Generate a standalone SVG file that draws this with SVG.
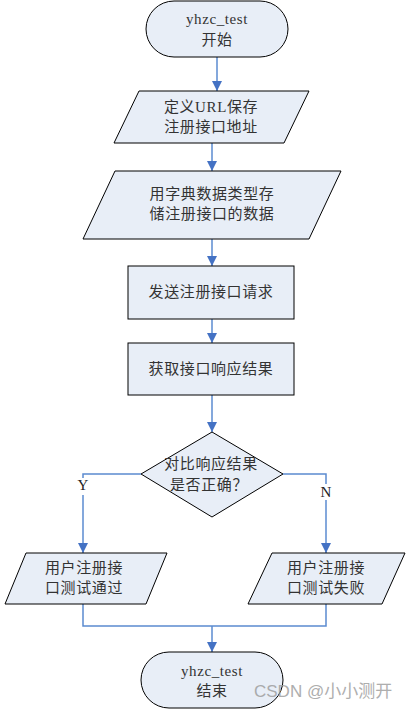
<svg xmlns="http://www.w3.org/2000/svg" width="406" height="710" viewBox="0 0 406 710">
<style>
.shape{fill:#E8EEF7;stroke:#000;stroke-width:1}
.t{font-family:"Liberation Serif","Noto Sans CJK SC",serif;font-size:15px;fill:#333;text-anchor:middle;letter-spacing:0.6px}
.lbl{font-family:"Liberation Serif",serif;font-size:15px;fill:#222;text-anchor:middle}
.c{fill:none;stroke:#5B8BD0;stroke-width:1.5}
.wm{font-family:"Liberation Sans","Noto Sans CJK SC",sans-serif;font-size:17px;fill:#9a9a9a;opacity:0.8}
</style>
<defs>
<marker id="arr" markerUnits="userSpaceOnUse" markerWidth="12" markerHeight="12" viewBox="0 0 12 12" refX="10" refY="6" orient="auto">
<path d="M0,1 L10,6 L0,11 Z" fill="#4472C4"/>
</marker>
</defs>
<g id="connectors">
<line class="c" x1="217" y1="57" x2="217" y2="91" marker-end="url(#arr)"/>
<line class="c" x1="212" y1="143" x2="212" y2="171" marker-end="url(#arr)"/>
<line class="c" x1="212" y1="239" x2="212" y2="266" marker-end="url(#arr)"/>
<line class="c" x1="212" y1="319" x2="212" y2="343" marker-end="url(#arr)"/>
<line class="c" x1="212" y1="395" x2="212" y2="432" marker-end="url(#arr)"/>
<polyline class="c" points="141,474 83,474 83,478"/>
<line class="c" x1="83" y1="495" x2="83" y2="553" marker-end="url(#arr)"/>
<text class="lbl" x="83" y="490">Y</text>
<polyline class="c" points="283,474 326,474 326,484"/>
<line class="c" x1="326" y1="500" x2="326" y2="553" marker-end="url(#arr)"/>
<text class="lbl" x="326" y="497">N</text>
<polyline class="c" points="83,604 83,626 326,626 326,604"/>
<line class="c" x1="212" y1="626" x2="212" y2="652" marker-end="url(#arr)"/>
</g>
<g id="start">
<rect class="shape" x="146" y="1" width="142" height="56" rx="28" ry="28"/>
<text class="t" x="217" y="24">yhzc_test</text>
<text class="t" x="217" y="45">开始</text>
</g>
<g id="define-url">
<polygon class="shape" points="139,91 309,91 284,143 114,143"/>
<text class="t" x="211" y="112">定义URL保存</text>
<text class="t" x="211" y="132">注册接口地址</text>
</g>
<g id="store-data">
<polygon class="shape" points="115,171 341,171 309,239 83,239"/>
<text class="t" x="212" y="199">用字典数据类型存</text>
<text class="t" x="212" y="219">储注册接口的数据</text>
</g>
<g id="send-request">
<rect class="shape" x="128" y="266" width="166" height="53"/>
<text class="t" x="211" y="297">发送注册接口请求</text>
</g>
<g id="get-response">
<rect class="shape" x="128" y="343" width="166" height="52"/>
<text class="t" x="211" y="374">获取接口响应结果</text>
</g>
<g id="compare">
<polygon class="shape" points="212,432 283,474 212,517 141,474"/>
<text class="t" x="211" y="469">对比响应结果</text>
<text class="t" x="209" y="490">是否正确？</text>
</g>
<g id="pass">
<polygon class="shape" points="26,553 167,553 146,604 5,604"/>
<text class="t" x="84" y="573">用户注册接</text>
<text class="t" x="84" y="593">口测试通过</text>
</g>
<g id="fail">
<polygon class="shape" points="272,553 405,553 382,604 248,604"/>
<text class="t" x="326" y="573">用户注册接</text>
<text class="t" x="326" y="593">口测试失败</text>
</g>
<g id="end">
<rect class="shape" x="141" y="652" width="142" height="56" rx="28" ry="28"/>
<text class="t" x="212" y="676">yhzc_test</text>
<text class="t" x="212" y="696">结束</text>
</g>
<text class="wm" x="254" y="697">CSDN @小小测开</text>
</svg>
